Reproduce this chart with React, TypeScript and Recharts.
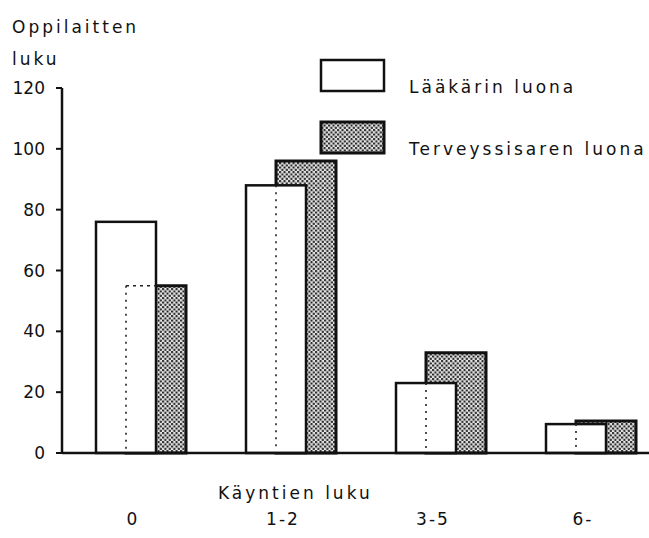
import { BarChart, Bar, XAxis, YAxis, Legend } from 'recharts';

// Käyntien luku (visits) per pupil group
const CATEGORIES = ['0', '1-2', '3-5', '6-'];
const DOCTOR_VISITS = [76, 88, 23, 9.5];
const NURSE_VISITS = [55, 96, 33, 10.5];
const Y_TICKS = [0, 20, 40, 60, 80, 100, 120];
const DOCTOR_NAME = 'Lääkärin luona';
const NURSE_NAME = 'Terveyssisaren luona';

const data = CATEGORIES.map((c, i) => ({
  visits: c,
  doctor: DOCTOR_VISITS[i],
  nurse: NURSE_VISITS[i],
}));

const BAR_SIZE = 60;
const BAR_GAP = -30;
const INK = '#111';
const FONT = '"DejaVu Sans", sans-serif';
const TEXT_STYLE = { fontFamily: FONT, fontSize: 17, fill: INK, letterSpacing: 3 };

/** white bar drawn in front, with the hidden edge of the nurse bar dotted through it */
function DoctorBar(props: any) {
  const { x, y, width, height, payload } = props;
  if (!height || height <= 0) return null;
  const unit = height / payload.doctor;
  const base = y + height;
  const nurseTop = base - payload.nurse * unit;
  const hiddenX = x + BAR_SIZE + BAR_GAP;
  const top = Math.max(y, nurseTop);
  return (
    <g>
      <rect x={x} y={y} width={width} height={height} fill="#fff" stroke={INK} strokeWidth={2.5} />
      <line x1={hiddenX} y1={top} x2={hiddenX} y2={base - 4} stroke="#222" strokeWidth={1.6} strokeDasharray="2 5" />
      {nurseTop > y && (
        <line x1={hiddenX} y1={nurseTop} x2={x + width} y2={nurseTop} stroke="#222" strokeWidth={1.6} strokeDasharray="3 4" />
      )}
    </g>
  );
}

function LegendBox({ payload }: any) {
  const items = (payload || []).filter((p: any) => p.dataKey === 'doctor' || p.dataKey === 'nurse');
  items.sort((a: any, b: any) => (a.dataKey === 'doctor' ? -1 : 1) - (b.dataKey === 'doctor' ? -1 : 1));
  return (
    <div style={{ fontFamily: FONT }}>
      {items.map((item: any) => (
        <div key={item.dataKey} style={{ display: 'flex', alignItems: 'flex-end', height: 62 }}>
          <svg width={68} height={36} style={{ display: 'block' }}>
            <rect
              x={2}
              y={2}
              width={63}
              height={31}
              fill={item.dataKey === 'nurse' ? 'url(#dots)' : '#fff'}
              stroke={INK}
              strokeWidth={item.dataKey === 'nurse' ? 3 : 2.5}
            />
          </svg>
          <span
            style={{
              marginLeft: 22,
              marginBottom: -3,
              fontSize: 17,
              letterSpacing: 3,
              color: INK,
              whiteSpace: 'nowrap',
            }}
          >
            {item.value}
          </span>
        </div>
      ))}
    </div>
  );
}

export default function App() {
  return (
    <div
      style={{
        position: 'fixed',
        left: 0,
        top: 0,
        width: 649,
        height: 538,
        overflow: 'hidden',
        background: '#fff',
      }}
    >
      <BarChart
        width={700}
        height={538}
        data={data}
        margin={{ top: 88, right: 34, bottom: 5, left: 0 }}
        barSize={BAR_SIZE}
        barGap={BAR_GAP}
      >
        <defs>
          <pattern id="dots" width={4.5} height={4.5} patternUnits="userSpaceOnUse">
            <rect width={4.5} height={4.5} fill="#e6e6e6" />
            <circle cx={1.1} cy={1.1} r={1.15} fill="#1a1a1a" />
            <circle cx={3.35} cy={3.35} r={1.15} fill="#1a1a1a" />
          </pattern>
        </defs>
        <text x={12} y={33} style={TEXT_STYLE}>Oppilaitten</text>
        <text x={12} y={65} style={TEXT_STYLE}>luku</text>
        <text x={218} y={499} style={TEXT_STYLE}>Käyntien luku</text>
        <XAxis
          dataKey="visits"
          height={80}
          padding={{ left: 4, right: 0 }}
          axisLine={{ stroke: INK, strokeWidth: 2.5 }}
          tickLine={false}
          tickSize={0}
          tickMargin={60}
          tick={{ fontFamily: FONT, fontSize: 17, fill: INK, letterSpacing: 2, dx: -8 }}
        />
        <YAxis
          width={62}
          domain={[0, 120]}
          ticks={Y_TICKS}
          interval={0}
          axisLine={{ stroke: INK, strokeWidth: 2.5 }}
          tickLine={{ stroke: INK, strokeWidth: 2 }}
          tickSize={6}
          tickMargin={11}
          tick={{ fontFamily: FONT, fontSize: 17, fill: INK }}
        />
        <Legend
          layout="vertical"
          align="center"
          verticalAlign="middle"
          wrapperStyle={{ top: 32, left: 319, width: 330 }}
          content={<LegendBox />}
        />
        {/* zero placeholder keeps the white bars in the left slot while drawing them last */}
        <Bar stackId="a" dataKey={() => 0} fill="none" legendType="none" isAnimationActive={false} />
        <Bar
          stackId="b"
          dataKey="nurse"
          name={NURSE_NAME}
          fill="url(#dots)"
          stroke={INK}
          strokeWidth={3}
          isAnimationActive={false}
        />
        <Bar
          stackId="a"
          dataKey="doctor"
          name={DOCTOR_NAME}
          fill="#fff"
          shape={<DoctorBar />}
          isAnimationActive={false}
        />
      </BarChart>
    </div>
  );
}
